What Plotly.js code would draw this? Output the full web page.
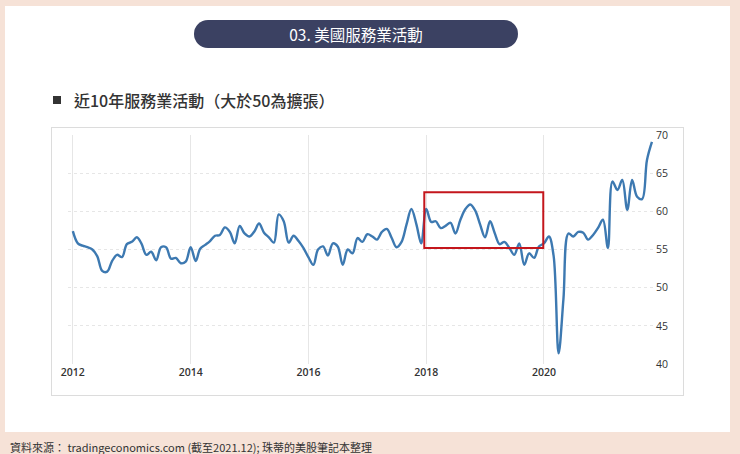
<!DOCTYPE html>
<html>
<head>
<meta charset="utf-8">
<script src="https://cdn.plot.ly/plotly-3.0.1.min.js"></script>
<style>
  html, body { margin:0; padding:0; }
  body { width:740px; height:454px; background:#f6e2d7; position:relative; overflow:hidden;
         font-family:"Noto Sans CJK TC","Noto Sans",sans-serif; }
  #card { position:absolute; left:5px; top:6px; width:725px; height:426px; background:#ffffff; }
  #pill { position:absolute; left:194px; top:20px; width:324px; height:28px; border-radius:14px;
          background:#3b4162; color:#ffffff; font-size:15.5px; line-height:28px; text-align:center; }
  #sq { position:absolute; left:53px; top:96px; width:8px; height:8px; background:#333333; }
  #sub { position:absolute; left:74px; top:91px; font-size:16px; line-height:18px; color:#333333; font-weight:500; }
  #box { position:absolute; left:51px; top:127px; width:633px; height:269px; box-sizing:border-box;
         border:1px solid #dcdcdc; }
  #chart { position:absolute; left:51px; top:127px; width:633px; height:269px; }
  #foot { position:absolute; left:10px; top:440px; font-size:11px; line-height:14px; color:#333333; }
</style>
</head>
<body>
<div id="card"></div>
<div id="pill">03. 美國服務業活動</div>
<div id="sq"></div>
<div id="sub">近10年服務業活動（大於50為擴張）</div>
<div id="box"></div>
<div id="chart"></div>
<div id="foot">資料來源： tradingeconomics.com (截至2021.12); 珠蒂的美股筆記本整理</div>
<script>
// Monthly values (Jan 2012 - Nov 2021)
const years = [2012, 2013, 2014, 2015, 2016, 2017, 2018, 2019, 2020, 2021];
const v2012 = [57.4, 55.8, 55.5, 55.3, 55.0, 54.1, 52.2, 52.1, 53.5, 54.3, 54.0, 55.7];
const v2013 = [56.0, 56.6, 55.8, 54.3, 54.7, 53.6, 55.3, 55.3, 53.8, 53.9, 53.2, 53.4];
const v2014 = [55.3, 53.5, 55.1, 55.6, 56.1, 56.8, 56.9, 57.9, 57.3, 55.8, 58.1, 57.1];
const v2015 = [56.7, 57.4, 58.4, 57.2, 56.6, 55.9, 59.6, 58.7, 55.9, 56.8, 56.1, 55.2];
const v2016 = [54.0, 53.0, 55.0, 55.4, 54.2, 55.8, 55.4, 53.0, 55.0, 54.5, 56.5, 56.0];
const v2017 = [57.0, 56.7, 56.3, 57.3, 57.7, 56.5, 55.3, 56.0, 58.3, 60.3, 58.3, 55.8];
const v2018 = [60.3, 58.6, 58.7, 57.8, 58.1, 58.5, 57.1, 58.9, 60.3, 60.9, 60.1, 58.3];
const v2019 = [56.6, 58.7, 57.2, 55.7, 56.0, 55.2, 54.3, 55.8, 53.0, 54.5, 53.9, 55.4];
const v2020 = [55.8, 56.7, 54.2, 41.4, 48.5, 57.1, 56.7, 57.3, 57.2, 56.3, 56.9, 57.8];
const v2021 = [58.9, 55.2, 63.9, 62.8, 64.1, 60.2, 64.1, 61.9, 61.6, 66.7, 69.1];
const yearValues = [v2012, v2013, v2014, v2015, v2016, v2017, v2018, v2019, v2020, v2021];

const yTicks = [40, 45, 50, 55, 60, 65, 70];
const xTickYears = ['2012', '2014', '2016', '2018', '2020'];

// highlight box (2018-2019 period)
const boxX = ['2017-12-20', '2019-12-28'];
const boxY = [55.2, 62.5];

const dates = [], vals = [];
years.forEach((yr, i) => {
  yearValues[i].forEach((v, m) => {
    dates.push(yr + '-' + String(m + 1).padStart(2, '0') + '-01');
    vals.push(v);
  });
});

const trace = {
  x: dates, y: vals, type: 'scatter', mode: 'lines',
  line: { color: '#3d79b1', width: 2.4, shape: 'spline', smoothing: 1 },
  hoverinfo: 'x+y'
};

const layout = {
  width: 633, height: 269,
  margin: { l: 17, r: 29, t: 8, b: 32, pad: 0 },
  paper_bgcolor: 'rgba(0,0,0,0)', plot_bgcolor: 'rgba(0,0,0,0)',
  showlegend: false,
  font: { family: '"Open Sans", "Noto Sans", sans-serif', color: '#333333', size: 10.5 },
  xaxis: {
    type: 'date', range: ['2011-12-02', '2021-11-20'],
    tickvals: xTickYears.map(y => y + '-01-01'), ticktext: xTickYears,
    showgrid: true, gridcolor: '#e6e6e6', gridwidth: 1,
    zeroline: false, showline: false, ticks: '', ticklen: 0,
    tickfont: { size: 10.5, color: '#333333', family: '"Open Sans", sans-serif', weight: 600 }
  },
  yaxis: {
    range: [40, 70], side: 'right', tickvals: yTicks,
    showgrid: true, gridcolor: '#e6e6e6', gridwidth: 1, griddash: 'dot',
    zeroline: false, showline: false, ticks: '',
    tickfont: { size: 10.5, color: '#333333', family: '"Open Sans", sans-serif' }
  },
  shapes: [{
    type: 'rect', xref: 'x', yref: 'y',
    x0: boxX[0], x1: boxX[1], y0: boxY[0], y1: boxY[1],
    line: { color: '#c4161c', width: 2 }, fillcolor: 'rgba(0,0,0,0)'
  }]
};

Plotly.newPlot('chart', [trace], layout, { staticPlot: true, displayModeBar: false });
</script>
</body>
</html>
